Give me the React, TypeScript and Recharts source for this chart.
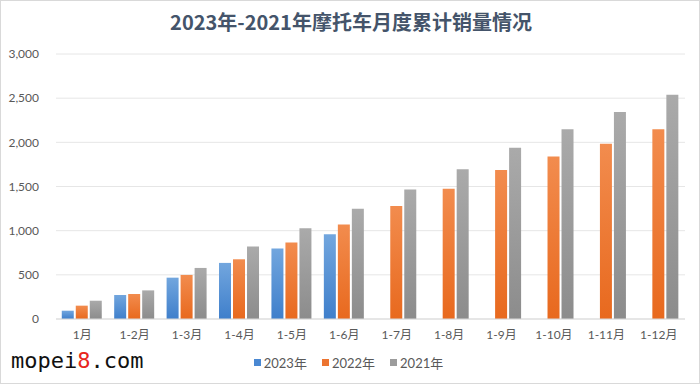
import React from 'react'
import { BarChart, Bar, XAxis, YAxis, CartesianGrid, Legend } from 'recharts'

const categories = ['1月', '1-2月', '1-3月', '1-4月', '1-5月', '1-6月', '1-7月', '1-8月', '1-9月', '1-10月', '1-11月', '1-12月']
const sales2023 = [94, 272, 468, 635, 797, 959, null, null, null, null, null, null]
const sales2022 = [151, 283, 499, 676, 865, 1069, 1278, 1474, 1686, 1841, 1984, 2147]
const sales2021 = [207, 324, 578, 820, 1027, 1247, 1467, 1694, 1939, 2147, 2343, 2540]
const yTicks = [0, 500, 1000, 1500, 2000, 2500, 3000]
const legendItems = [
  { label: '2023年', color: '#4a88d2' },
  { label: '2022年', color: '#ec7430' },
  { label: '2021年', color: '#9c9c9c' },
]

const chartData = categories.map((name, i) => ({
  name,
  y2023: sales2023[i],
  y2022: sales2022[i],
  y2021: sales2021[i],
}))

const font = "Lato, 'Noto Sans CJK SC', sans-serif"
const fmt = (v: number) => v.toLocaleString('en-US')

const LegendBox = () => (
  <div style={{ display: 'flex', justifyContent: 'center', gap: 15, fontFamily: font, paddingLeft: 12 }}>
    {legendItems.map(it => (
      <div key={it.label} style={{ display: 'flex', alignItems: 'center', gap: 3 }}>
        <span style={{ width: 7, height: 7, background: it.color, display: 'inline-block' }} />
        <span style={{ color: '#595959', fontSize: 13 }}>{it.label}</span>
      </div>
    ))}
  </div>
)

export default function App() {
  return (
    <div
      style={{
        position: 'absolute',
        left: 0,
        top: 0,
        width: 700,
        height: 384,
        background: '#fff',
        boxSizing: 'border-box',
        border: '1px solid #d9d9d9',
        fontFamily: font,
      }}
    >
      <div
        style={{
          position: 'absolute',
          top: 6,
          left: 0,
          width: 700,
          textAlign: 'center',
          fontSize: 20,
          fontWeight: 700,
          color: '#44546a',
          fontFamily: "'Noto Sans CJK SC', sans-serif",
        }}
      >
        2023年-2021年摩托车月度累计销量情况
      </div>
      <div style={{ position: 'absolute', left: -1, top: -1 }}>
        <BarChart
          width={700}
          height={384}
          data={chartData}
          margin={{ top: 54, right: 15, bottom: 15, left: 0 }}
          barCategoryGap="11%"
          barGap={2}
        >
          <defs>
            <linearGradient id="g2023" x1="0" y1="0" x2="0" y2="1">
              <stop offset="0%" stopColor="#72a6de" />
              <stop offset="100%" stopColor="#3f7fcb" />
            </linearGradient>
            <linearGradient id="g2022" x1="0" y1="0" x2="0" y2="1">
              <stop offset="0%" stopColor="#f28c4e" />
              <stop offset="100%" stopColor="#e8691e" />
            </linearGradient>
            <linearGradient id="g2021" x1="0" y1="0" x2="0" y2="1">
              <stop offset="0%" stopColor="#aaaaaa" />
              <stop offset="100%" stopColor="#8c8c8c" />
            </linearGradient>
          </defs>
          <CartesianGrid vertical={false} stroke="#e6e6e6" />
          <XAxis
            dataKey="name"
            axisLine={{ stroke: '#d9d9d9' }}
            tickLine={false}
            tickMargin={5}
            height={30}
            interval={0}
            tick={{ fontSize: 12, fill: '#595959', fontFamily: font }}
          />
          <YAxis
            width={56}
            domain={[0, 3000]}
            ticks={yTicks}
            axisLine={false}
            tickLine={false}
            tickMargin={11}
            tickFormatter={fmt}
            tick={{ fontSize: 12, fill: '#595959', fontFamily: font }}
          />
          <Legend verticalAlign="bottom" height={20} content={() => <LegendBox />} wrapperStyle={{ bottom: 11 }} />
          <Bar dataKey="y2023" name="2023年" fill="url(#g2023)" isAnimationActive={false} />
          <Bar dataKey="y2022" name="2022年" fill="url(#g2022)" isAnimationActive={false} />
          <Bar dataKey="y2021" name="2021年" fill="url(#g2021)" isAnimationActive={false} />
        </BarChart>
      </div>
      <div
        style={{
          position: 'absolute',
          left: 10,
          top: 347,
          fontSize: 22,
          fontFamily: "'DejaVu Sans Mono', monospace",
          color: '#111',
        }}
      >
        mopei<span style={{ color: '#e8261c' }}>8</span>.com
      </div>
    </div>
  )
}
